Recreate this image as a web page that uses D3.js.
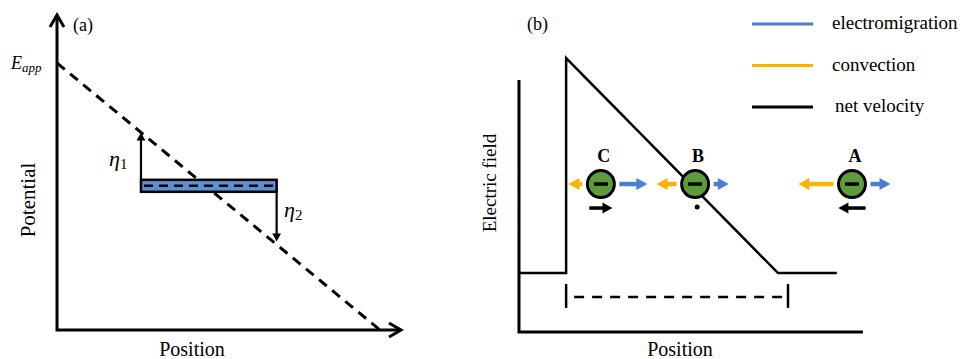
<!DOCTYPE html>
<html>
<head>
<meta charset="utf-8">
<script src="https://cdn.jsdelivr.net/npm/d3@7"></script>
<style>
  body { margin: 0; background: #fff; }
  svg { font-family: "Liberation Serif", "Times New Roman", serif; }
</style>
</head>
<body>
<svg id="fig" width="967" height="359"></svg>
<script>
// ---- panel (a) data: potential vs position ----
const potentialLine = [[0, 1], [1, 0]];          // applied potential drop
const electrodeSpan = [0.26, 0.68];              // bipolar electrode extent
const electrodePotential = 0.54;

// ---- panel (b) data: electric field profile ----
const fieldProfile = [[0, 0.215], [0.137, 0.215], [0.137, 1], [0.753, 0.215], [0.924, 0.215]];
const bracketSpan = [0.137, 0.782];
const bracketLevel = 0.128;

// particles and their velocity components
const particleNames = ["C", "B", "A"];
const particlePos = [0.238, 0.512, 0.968];
const particleLevel = 0.54;
const emVelocity = [0.7, 0.38, 0.5];
const convVelocity = [-0.35, -0.5, -0.88];
const netVelocity = [0.58, 0, -0.68];

// legend
const legendLabels = ["electromigration", "convection", "net velocity"];
const legendColors = ["#4a7fd2", "#f7b500", "#000"];

const svg = d3.select("#fig");

// arrow helper: straight shaft with a filled triangular head
function arrow(g, x1, y1, x2, y2, color, width, head) {
  const dir = Math.sign(x2 - x1) || Math.sign(y2 - y1);
  const horiz = y1 === y2;
  let sx2 = x2, sy2 = y2;
  if (horiz) sx2 = x2 - dir * head * 0.8; else sy2 = y2 - dir * head * 0.8;
  g.append("line").attr("x1", x1).attr("y1", y1).attr("x2", sx2).attr("y2", sy2)
    .attr("stroke", color).attr("stroke-width", width);
  let pts;
  if (horiz) pts = [[x2, y2], [x2 - dir * head, y2 - head * 0.55], [x2 - dir * head, y2 + head * 0.55]];
  else pts = [[x2, y2], [x2 - head * 0.55, y2 - dir * head], [x2 + head * 0.55, y2 - dir * head]];
  g.append("polygon").attr("points", pts.map(p => p.join(",")).join(" ")).attr("fill", color);
}

// ================= panel (a) =================
const xa = d3.scaleLinear().domain([0, 1]).range([57, 380]);
const ya = d3.scaleLinear().domain([0, 1]).range([330, 63]);
const ga = svg.append("g");

// axes with open arrow heads
ga.append("path")
  .attr("d", `M${xa(0)},${ya(1.18)} V${ya(0)} H${xa(1.065)}`)
  .attr("fill", "none").attr("stroke", "#000").attr("stroke-width", 3);
ga.append("path")
  .attr("d", `M${xa(0) - 7},${ya(1.18) + 12} L${xa(0)},${ya(1.18)} L${xa(0) + 7},${ya(1.18) + 12}`)
  .attr("fill", "none").attr("stroke", "#000").attr("stroke-width", 3);
ga.append("path")
  .attr("d", `M${xa(1.065) - 12},${ya(0) - 7} L${xa(1.065)},${ya(0)} L${xa(1.065) - 12},${ya(0) + 7}`)
  .attr("fill", "none").attr("stroke", "#000").attr("stroke-width", 3);

// dashed potential line
ga.append("path")
  .attr("d", d3.line().x(d => xa(d[0])).y(d => ya(d[1]))(potentialLine))
  .attr("fill", "none").attr("stroke", "#000").attr("stroke-width", 3)
  .attr("stroke-dasharray", "10,7");

// electrode
ga.append("rect")
  .attr("x", xa(electrodeSpan[0])).attr("y", ya(electrodePotential) - 6)
  .attr("width", xa(electrodeSpan[1]) - xa(electrodeSpan[0])).attr("height", 12)
  .attr("fill", "#5b90d6").attr("stroke", "#000").attr("stroke-width", 2.5);
ga.append("line")
  .attr("x1", xa(electrodeSpan[0]) + 3).attr("x2", xa(electrodeSpan[1]) - 3)
  .attr("y1", ya(electrodePotential)).attr("y2", ya(electrodePotential))
  .attr("stroke", "#000").attr("stroke-width", 2.5).attr("stroke-dasharray", "9,6");

// overpotential arrows
const potAt = x => potentialLine[0][1] + (potentialLine[1][1] - potentialLine[0][1]) * x;
arrow(ga, xa(electrodeSpan[0]), ya(electrodePotential) - 6, xa(electrodeSpan[0]), ya(potAt(electrodeSpan[0])), "#000", 2.2, 8);
arrow(ga, xa(electrodeSpan[1]), ya(electrodePotential) + 6, xa(electrodeSpan[1]), ya(potAt(electrodeSpan[1])) - 3, "#000", 2.2, 8);

const eta1 = ga.append("text").attr("x", 109).attr("y", 166).attr("font-size", 22);
eta1.append("tspan").attr("font-style", "italic").text("η");
eta1.append("tspan").attr("font-size", 15).attr("dy", 3).text("1");
const eta2 = ga.append("text").attr("x", 284).attr("y", 217).attr("font-size", 22);
eta2.append("tspan").attr("font-style", "italic").text("η");
eta2.append("tspan").attr("font-size", 15).attr("dy", 3).text("2");

// labels
ga.append("text").attr("x", 73).attr("y", 31).attr("font-size", 18).text("(a)");
const eapp = ga.append("text").attr("x", 11).attr("y", 69).attr("font-size", 18).attr("font-style", "italic");
eapp.append("tspan").text("E");
eapp.append("tspan").attr("font-size", 13).attr("dy", 3).text("app");
ga.append("text").attr("transform", `translate(35,200) rotate(-90)`)
  .attr("text-anchor", "middle").attr("font-size", 21).text("Potential");
ga.append("text").attr("x", 192).attr("y", 356).attr("text-anchor", "middle")
  .attr("font-size", 20).text("Position");

// ================= panel (b) =================
const xb = d3.scaleLinear().domain([0, 1]).range([519, 863]);
const yb = d3.scaleLinear().domain([0, 1]).range([332, 58]);
const vb = d3.scaleLinear().domain([0, 1]).range([0, 40]);
const gb = svg.append("g");

gb.append("path")
  .attr("d", `M${xb(0)},${yb(0.92)} V${yb(0)} H${xb(1)}`)
  .attr("fill", "none").attr("stroke", "#000").attr("stroke-width", 3);

gb.append("path")
  .attr("d", d3.line().x(d => xb(d[0])).y(d => yb(d[1]))(fieldProfile))
  .attr("fill", "none").attr("stroke", "#000").attr("stroke-width", 2.5);

// dashed bracket
gb.append("line")
  .attr("x1", xb(bracketSpan[0]) + 8).attr("x2", xb(bracketSpan[1]) - 4)
  .attr("y1", yb(bracketLevel)).attr("y2", yb(bracketLevel))
  .attr("stroke", "#000").attr("stroke-width", 2.5).attr("stroke-dasharray", "10,8");
bracketSpan.forEach(s => {
  gb.append("line").attr("x1", xb(s)).attr("x2", xb(s))
    .attr("y1", yb(bracketLevel) - 13).attr("y2", yb(bracketLevel) + 11)
    .attr("stroke", "#000").attr("stroke-width", 2.5);
});

// particles
const r = 13.5;
particleNames.forEach((name, i) => {
  const cx = xb(particlePos[i]), cy = yb(particleLevel);
  // convection (left of particle)
  const cs = cx - r - 5;
  arrow(gb, cs, cy, cs + vb(convVelocity[i]), cy, legendColors[1], 4.5, 11);
  // electromigration (right of particle)
  const es = cx + r + 5;
  arrow(gb, es, cy, es + vb(emVelocity[i]), cy, legendColors[0], 4.5, 11);
  // net velocity below
  if (netVelocity[i] === 0) {
    gb.append("circle").attr("cx", cx + 2).attr("cy", cy + 23).attr("r", 2.5).attr("fill", "#000");
  } else {
    const ns = cx - vb(netVelocity[i]) / 2;
    arrow(gb, ns, cy + 24, ns + vb(netVelocity[i]), cy + 24, "#000", 3.5, 10);
  }
  gb.append("circle").attr("cx", cx).attr("cy", cy).attr("r", r)
    .attr("fill", "#5c9c3c").attr("stroke", "#000").attr("stroke-width", 3);
  gb.append("line").attr("x1", cx - 7).attr("x2", cx + 7).attr("y1", cy).attr("y2", cy)
    .attr("stroke", "#000").attr("stroke-width", 3.5);
  gb.append("text").attr("x", cx + 3).attr("y", cy - 22).attr("text-anchor", "middle")
    .attr("font-size", 18).attr("font-weight", "bold").text(name);
});

// legend
legendLabels.forEach((lab, i) => {
  const y = 24 + i * 41.5;
  gb.append("line").attr("x1", 752).attr("x2", 813).attr("y1", y).attr("y2", y)
    .attr("stroke", legendColors[i]).attr("stroke-width", 3);
  gb.append("text").attr("x", i === 2 ? 835 : 832).attr("y", y + 5)
    .attr("font-size", 19).text(lab);
});

gb.append("text").attr("x", 527).attr("y", 30).attr("font-size", 18).text("(b)");
gb.append("text").attr("transform", `translate(496,183) rotate(-90)`)
  .attr("text-anchor", "middle").attr("font-size", 19).text("Electric field");
gb.append("text").attr("x", 680).attr("y", 356).attr("text-anchor", "middle")
  .attr("font-size", 20).text("Position");
</script>
</body>
</html>
